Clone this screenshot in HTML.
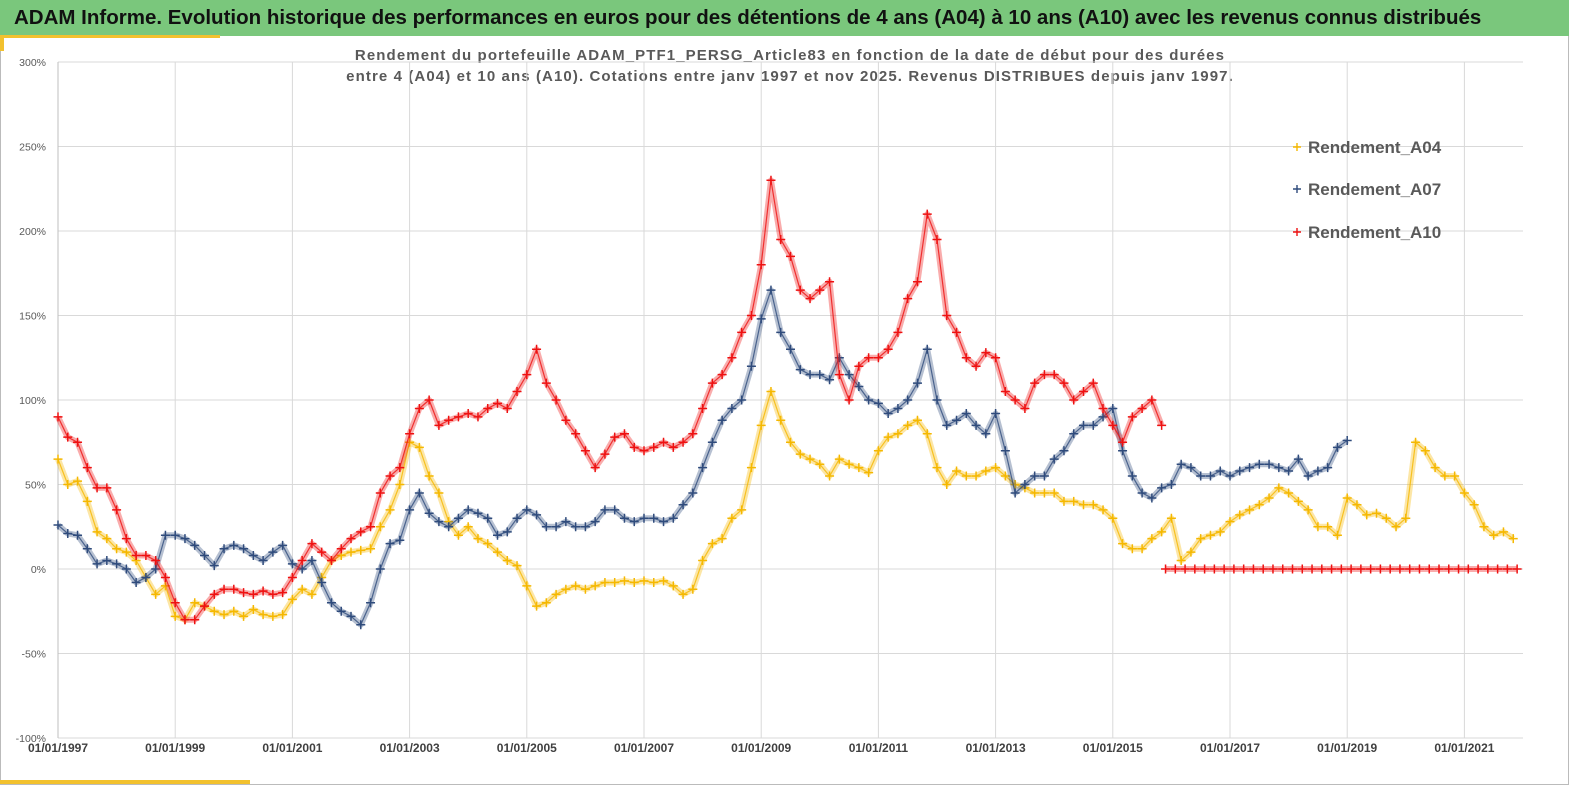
<!DOCTYPE html>
<html><head><meta charset="utf-8"><style>
body{margin:0;width:1569px;height:785px;overflow:hidden;background:#fff;font-family:"Liberation Sans",sans-serif}
#frame{position:absolute;left:0;top:0;width:1567px;height:783px;border:1px solid #bbb}
#title{position:absolute;left:0;top:0;width:1569px;height:36px;background:#7ac77c;font-weight:bold;font-size:20.5px;color:#111;line-height:36px;padding-left:14px;box-sizing:border-box;white-space:nowrap}
</style></head><body>
<div id="frame"></div>
<div id="title">ADAM Informe. Evolution historique des performances en euros pour des détentions de 4 ans (A04) à 10 ans (A10) avec les revenus connus distribués</div>
<div style="position:absolute;left:0;top:35px;width:220px;height:3px;background:#f2c12e"></div>
<div style="position:absolute;left:0;top:36px;width:4px;height:15px;background:#f2c12e"></div>
<div style="position:absolute;left:0;top:780px;width:250px;height:4px;background:#f2c12e"></div>
<svg id="chart" width="1569" height="785" style="position:absolute;left:0;top:0">
<text x="790" y="60" text-anchor="middle" font-size="15" letter-spacing="1.1" font-weight="bold" fill="#595959">Rendement du portefeuille ADAM_PTF1_PERSG_Article83  en fonction de la date de début pour des durées</text>
<text x="790" y="81" text-anchor="middle" font-size="15" letter-spacing="1.1" font-weight="bold" fill="#595959">entre 4 (A04) et 10 ans (A10). Cotations entre janv 1997 et nov 2025. Revenus DISTRIBUES depuis janv 1997.</text>
<g id="grid"></g><g id="series"></g><g id="legend"></g>
</svg>
<script>
const yTicks=[300,250,200,150,100,50,0,-50,-100];
const xTickYears=[1997,1999,2001,2003,2005,2007,2009,2011,2013,2015,2017,2019,2021];
const a04=[65,50,52,40,22,18, 12,10,5,-5,-15,-10, -28,-30,-20,-22,-25,-27, -25,-28,-24,-27,-28,-27, -18,-12,-15,-5,5,8, 10,11,12,25,35,50, 75,72,55,45,28,20, 25,18,15,10,5,2, -10,-22,-20,-15,-12,-10, -12,-10,-8,-8,-7,-8, -7,-8,-7,-10,-15,-12, 5,15,18,30,35,60, 85,105,88,75,68,65, 62,55,65,62,60,57, 70,78,80,85,88,80, 60,50,58,55,55,58, 60,55,50,48,45,45, 45,40,40,38,38,35, 30,15,12,12,18,22, 30,5,10,18,20,22, 28,32,35,38,42,48, 45,40,35,25,25,20, 42,38,32,33,30,25, 30,75,70,60,55,55, 45,38,25,20,22,18];
const a07=[26,21,20,12,3,5, 3,0,-8,-5,0,20, 20,18,14,8,2,12, 14,12,8,5,10,14, 3,0,5,-8,-20,-25, -28,-33,-20,0,15,17, 35,45,33,28,25,30, 35,33,30,20,22,30, 35,32,25,25,28,25, 25,28,35,35,30,28, 30,30,28,30,38,45, 60,75,88,95,100,120, 148,165,140,130,118,115, 115,112,125,115,108,100, 98,92,95,100,110,130, 100,85,88,92,85,80, 92,70,45,50,55,55, 65,70,80,85,85,90, 95,70,55,45,42,48, 50,62,60,55,55,58, 55,58,60,62,62,60, 58,65,55,58,60,72, 76];
const a10=[90,78,75,60,48,48, 35,18,8,8,5,-5, -20,-30,-30,-22,-15,-12, -12,-14,-15,-13,-15,-14, -5,5,15,10,5,12, 18,22,25,45,55,60, 80,95,100,85,88,90, 92,90,95,98,95,105, 115,130,110,100,88,80, 70,60,68,78,80,72, 70,72,75,72,75,80, 95,110,115,125,140,150, 180,230,195,185,165,160, 165,170,115,100,120,125, 125,130,140,160,170,210, 195,150,140,125,120,128, 125,105,100,95,110,115, 115,110,100,105,110,95, 85,75,90,95,100,85];
const a10Late=[0,0,0,0,0,0,0,0,0,0,0,0,0,0,0,0,0,0,0,0,0,0,0,0,0,0,0,0,0,0,0,0,0,0,0,0,0];
const startYear=1997, lateStart=2015.9, perYear=6;
const X0=58,X1=1523,Y0=62,Y1=738;
const xs=y=>X0+(y-1997)/(2022-1997)*(X1-X0);
const ys=v=>Y0+(300-v)/400*(Y1-Y0);
const NS='http://www.w3.org/2000/svg';
function mk(t,a,p){const e=document.createElementNS(NS,t);for(const k in a)e.setAttribute(k,a[k]);p.appendChild(e);return e;}
const grid=document.getElementById('grid');
yTicks.forEach(v=>{
 const l=mk('line',{x1:X0,x2:X1,y1:ys(v),y2:ys(v),stroke:'#d9d9d9','stroke-width':1},grid);
 
 
 const t=mk('text',{x:X0-12,y:ys(v)+4,'text-anchor':'end','font-size':10.5,fill:'#595959'},grid);
 t.textContent=v+'%';
 
 
});
xTickYears.forEach(yr=>{
 const l=mk('line',{x1:xs(yr),x2:xs(yr),y1:Y0,y2:Y1,stroke:'#d9d9d9','stroke-width':1},grid);
 
 
 const t=mk('text',{x:xs(yr),y:Y1+14,'text-anchor':'middle','font-size':12,'font-weight':'bold',fill:'#404040'},grid);
 t.textContent='01/01/'+yr;
 
 
});
const ax=mk('line',{x1:X0,x2:X0,y1:Y0,y2:Y1,stroke:'#bfbfbf'},grid);


const sg=document.getElementById('series');
function drawSeries(vals,start,color,name){
 const g=mk('g',{},sg);
 
 
 const pts=vals.map((v,i)=>[xs(start+i/perYear),ys(v)]);
 mk('polyline',{points:pts.map(p=>p.join(',')).join(' '),fill:'none',stroke:color,'stroke-width':6,'stroke-opacity':0.35,'stroke-linejoin':'round'},g);
 mk('polyline',{points:pts.map(p=>p.join(',')).join(' '),fill:'none',stroke:color,'stroke-width':1.2,'stroke-opacity':0.8,'stroke-linejoin':'round'},g);
 pts.forEach(p=>{
  const m=mk('path',{d:`M${p[0]-4.5},${p[1]}h9M${p[0]},${p[1]-4.5}v9`,stroke:color,'stroke-width':1.5},g);
  
  
 });
}
drawSeries(a04,startYear,'#f5b800','series-a04');
drawSeries(a07,startYear,'#2f4b7c','series-a07');
drawSeries(a10,startYear,'#ee1111','series-a10');
drawSeries(a10Late,lateStart,'#ee1111','series-a10-late');
const lg=document.getElementById('legend');
[['Rendement_A04','#f5b800',147],['Rendement_A07','#2f4b7c',189],['Rendement_A10','#ee1111',232]].forEach(d=>{
 const g=mk('g',{},lg);
 
 
 mk('path',{d:`M1293,${d[2]}h8M1297,${d[2]-4}v8`,stroke:d[1],'stroke-width':1.4},g);
 const t=mk('text',{x:1308,y:d[2]+6,'font-size':17,'font-weight':'bold',fill:'#595959'},g);
 t.textContent=d[0];
});
</script>
</body></html>
